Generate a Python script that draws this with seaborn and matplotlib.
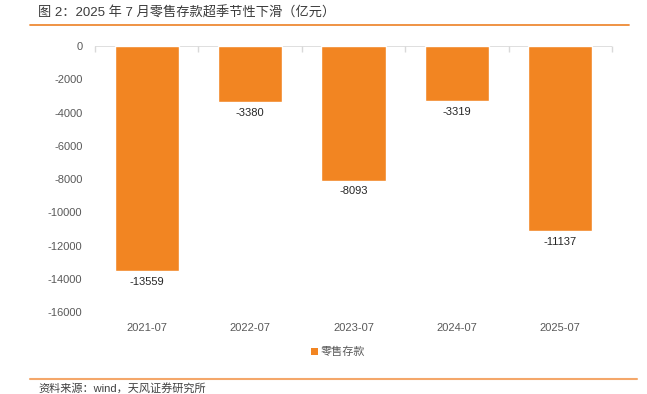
import matplotlib
matplotlib.use('Agg')
import matplotlib.pyplot as plt
import pandas as pd
import seaborn as sns
from matplotlib.lines import Line2D
from matplotlib.patches import Patch

# dane
miesiace = ['2021-07', '2022-07', '2023-07', '2024-07', '2025-07']
depozyty = [-13559, -3380, -8093, -3319, -11137]
nazwa_serii = '零售存款'
tytul = '图 2：2025 年 7 月零售存款超季节性下滑（亿元）'
zrodlo = '资料来源：wind，天风证券研究所'
y_ticks = [0, -2000, -4000, -6000, -8000, -10000, -12000, -14000, -16000]

pomaranczowy = '#F28522'
szary = '#595959'

sns.set_theme(style='white')
plt.rcParams['font.family'] = ['Liberation Sans', 'Noto Sans CJK SC', 'DejaVu Sans']

df = pd.DataFrame({'miesiac': miesiace, 'wartosc': depozyty})

fig = plt.figure(figsize=(6.47, 3.94), dpi=100)
ax = fig.add_axes([0.1468, 0.2081, 0.7991, 0.6751])

sns.barplot(data=df, x='miesiac', y='wartosc', color=pomaranczowy,
            saturation=1, width=0.62, ax=ax)

ax.set_ylim(-16000, 0)
ax.set_xlim(-0.5, 4.5)
ax.set_yticks(y_ticks)
ax.set_yticklabels([str(t) for t in y_ticks])
ax.set_xlabel('')
ax.set_ylabel('')
for s in ax.spines.values():
    s.set_visible(False)
ax.axhline(0, color='#d9d9d9', lw=1.2, zorder=0)

# male kreski na granicach kategorii
ax.set_xticks([i - 0.5 for i in range(6)], minor=True)
ax.tick_params(axis='x', which='minor', top=True, bottom=False, direction='in',
               length=4, color='#d9d9d9', width=1)
ax.tick_params(axis='x', which='major', length=0, pad=8, labelsize=8, labelcolor=szary)
ax.tick_params(axis='y', length=0, pad=9, labelsize=8, labelcolor=szary)

for c in ax.containers:
    ax.bar_label(c, labels=[str(v) for v in depozyty], padding=4,
                 fontsize=8, color='#262626')

# legenda pod wykresem
uchwyt = Patch(facecolor=pomaranczowy, edgecolor='none', label=nazwa_serii)
fig.legend(handles=[uchwyt], loc='center', bbox_to_anchor=(338 / 647, 1 - 352 / 394),
           frameon=False, fontsize=8, handlelength=0.6, handleheight=0.6,
           handletextpad=0.2, labelcolor=szary)

fig.text(38 / 647, 1 - 13 / 394, tytul, fontsize=9.5, fontweight='medium',
         color='#3a3a3a', va='center', ha='left')
fig.add_artist(Line2D([30 / 647, 629 / 647], [1 - 25 / 394] * 2,
                      color='#EE8A35', lw=1.3))
fig.add_artist(Line2D([30 / 647, 637 / 647], [1 - 379 / 394] * 2,
                      color='#F4A76A', lw=1.5))
fig.text(38 / 647, 1 - 383 / 394, zrodlo, fontsize=8, color='#404040',
         va='top', ha='left')

fig.savefig('out.png', dpi=100)
